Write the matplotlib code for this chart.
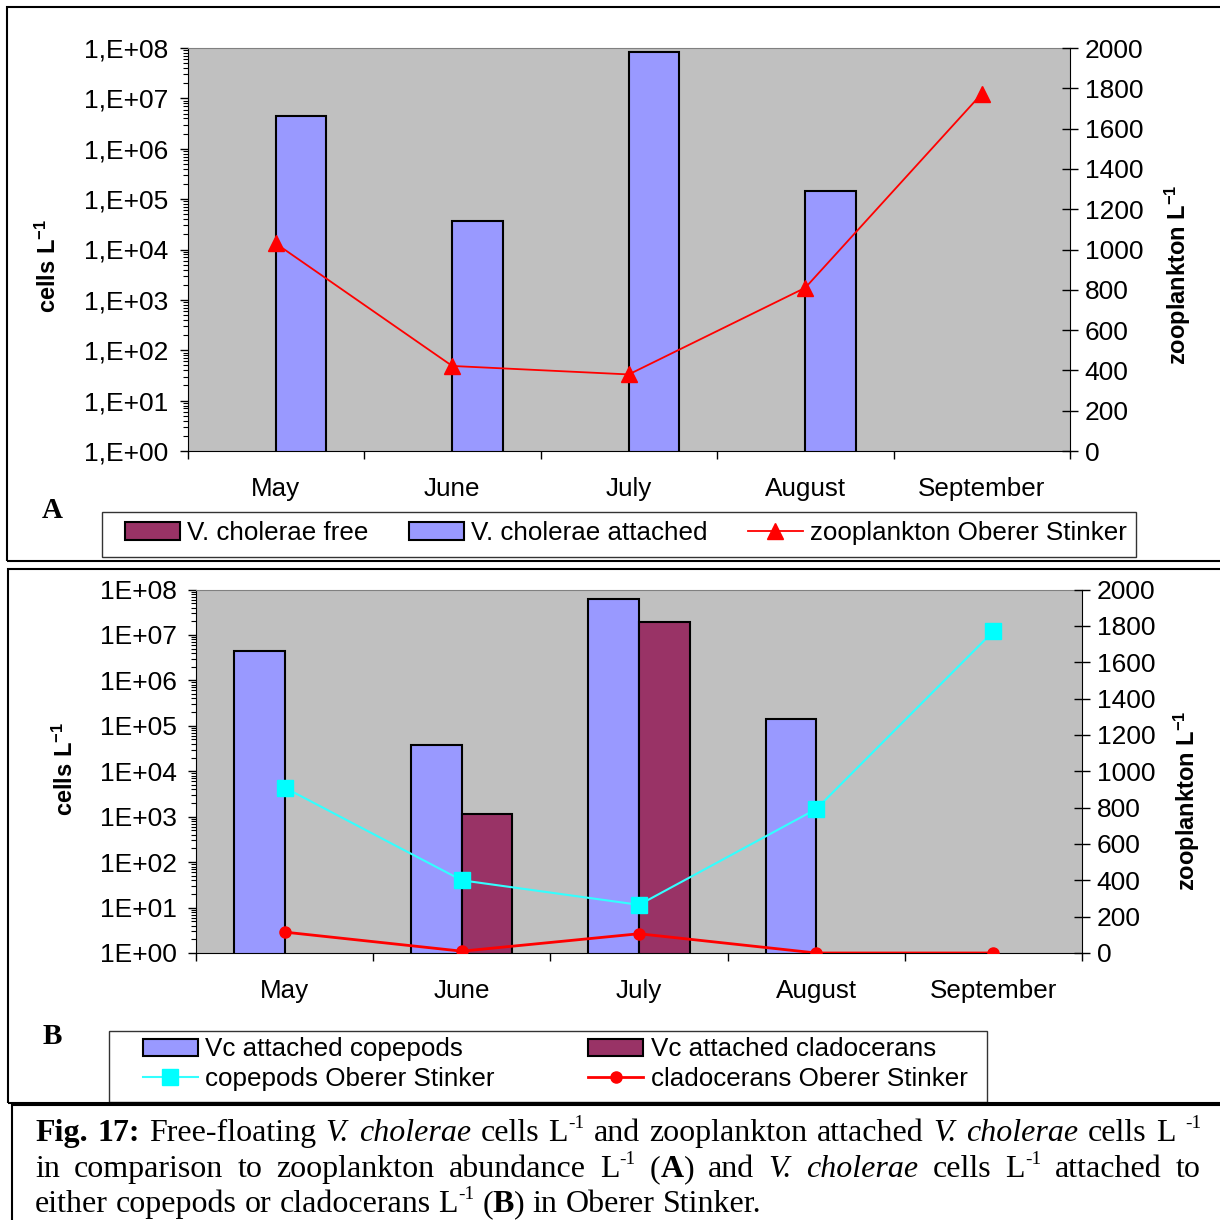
import numpy as np
import matplotlib
matplotlib.use('Agg')
import matplotlib.pyplot as plt
from matplotlib.patches import Rectangle
from matplotlib.ticker import FixedLocator, FuncFormatter, LogLocator, NullFormatter

plt.rcParams['font.family'] = 'Liberation Sans'
plt.rcParams['mathtext.default'] = 'regular'

months = ['May', 'June', 'July', 'August', 'September']

# panel A: cells L-1 (log axis) and zooplankton L-1 (right axis)
vc_free = [0, 0, 0, 0, 0]
vc_attached = [4.4e6, 3.6e4, 8.3e7, 1.48e5, 0]
zoo_total = [1030, 422, 380, 810, 1773]

# panel B
vc_copepods = [4.5e6, 3.7e4, 6.2e7, 1.44e5, 0]
vc_cladocerans = [0, 1.16e3, 1.94e7, 0, 0]
zoo_copepods = [910, 400, 265, 792, 1770]
zoo_cladocerans = [115, 10, 106, 0, 0]

BLUE = '#9999FF'
MAROON = '#993366'
GREY = '#C0C0C0'
FS = 19      # tick labels
LFS = 18.7   # legend text

W, H = 1220, 1220
fig = plt.figure(figsize=(12.2, 12.2), dpi=100)


def fx(px):
    return px / W


def fy(py):
    return 1 - py / H


def box(x0, y0, x1, y1):
    return [fx(x0), fy(y1), fx(x1) - fx(x0), fy(y0) - fy(y1)]


def frame(x0, y0, x1, y1, lw=1.5, ec='black'):
    fig.add_artist(Rectangle((fx(x0), fy(y1)), fx(x1) - fx(x0), fy(y0) - fy(y1),
                             transform=fig.transFigure, fill=False, ec=ec, lw=lw))


def style_axes(ax, ax2, fmt):
    ax.set_facecolor(GREY)
    ax.set_yscale('log')
    ax.set_ylim(1, 1e8)
    ax.set_xlim(-0.5, 4.5)
    ax.yaxis.set_major_locator(FixedLocator([10.0 ** k for k in range(9)]))
    ax.yaxis.set_major_formatter(FuncFormatter(lambda v, p: fmt % round(np.log10(v))))
    ax.yaxis.set_minor_locator(LogLocator(base=10, subs=np.arange(2, 10), numticks=20))
    ax.yaxis.set_minor_formatter(NullFormatter())
    ax.tick_params(axis='y', which='major', direction='out', length=6, width=1, labelsize=FS, pad=8)
    ax.tick_params(axis='y', which='minor', direction='out', length=3.5, width=0.8)
    ax.set_xticks(np.arange(-0.5, 5, 1))
    ax.set_xticklabels([])
    ax.set_xticks(np.arange(5), minor=True)
    ax.set_xticklabels(months, minor=True)
    ax.tick_params(axis='x', which='major', direction='out', length=6, width=1)
    ax.tick_params(axis='x', which='minor', length=0, labelsize=FS - 0.3, pad=18.5)
    ax2.set_ylim(0, 2000)
    ax2.set_yticks(np.arange(0, 2001, 200))
    ax2.tick_params(axis='y', direction='inout', length=11, width=1, labelsize=FS, pad=5)
    ax.spines['top'].set_color('#808080')
    ax.spines['right'].set_visible(False)
    for s in ('top', 'left', 'bottom'):
        ax2.spines[s].set_visible(False)
    ax2.spines['right'].set_color('black')


x = np.arange(len(months))
w = 0.286

# ---------------- panel A
axA = fig.add_axes(box(187.5, 48, 1070, 451))
axA2 = axA.twinx()
style_axes(axA, axA2, '1,E+%02d')
bA1 = axA.bar(x - w, vc_free, w, align='edge', color=MAROON, edgecolor='black', lw=1.5)
bA2 = axA.bar(x, vc_attached, w, align='edge', color=BLUE, edgecolor='black', lw=1.5)
lA, = axA2.plot(x, zoo_total, color='red', lw=1.3, marker='^', ms=11, mec='red')
axA.text(-0.158, 0.46, 'cells L$^{-1}$', rotation=90, ha='center', va='center',
         transform=axA.transAxes, fontsize=17, fontweight='bold')
axA.text(1.122, 0.437, 'zooplankton L$^{-1}$', rotation=90, ha='center', va='center',
         transform=axA.transAxes, fontsize=17, fontweight='bold')

fig.legend([bA1, bA2, lA], ['V. cholerae free', 'V. cholerae attached', 'zooplankton Oberer Stinker'],
           loc='center left', bbox_to_anchor=(fx(125), fy(533)), bbox_transform=fig.transFigure,
           ncol=3, frameon=False, fontsize=LFS, handlelength=2.1, handleheight=0.65,
           handletextpad=0.3, columnspacing=1.55, borderpad=0, borderaxespad=0)
frame(102, 512, 1136, 557, lw=1.0, ec='#333333')
fig.text(fx(52), fy(510), 'A', ha='center', va='center', family='Liberation Serif',
         fontweight='bold', fontsize=21)
frame(7, 7, 1240, 561)

# ---------------- panel B
axB = fig.add_axes(box(196, 589.5, 1082, 953))
axB2 = axB.twinx()
style_axes(axB, axB2, '1E+%02d')
bB1 = axB.bar(x - w, vc_copepods, w, align='edge', color=BLUE, edgecolor='black', lw=1.5)
bB2 = axB.bar(x, vc_cladocerans, w, align='edge', color=MAROON, edgecolor='black', lw=1.5)
lB1, = axB2.plot(x, zoo_copepods, color='#33FFFF', lw=1.5, marker='s', ms=12,
                 mfc='#00FFFF', mec='#00FFFF')
lB2, = axB2.plot(x, zoo_cladocerans, color='red', lw=2, marker='o', ms=8, mec='red')
axB.text(-0.148, 0.506, 'cells L$^{-1}$', rotation=90, ha='center', va='center',
         transform=axB.transAxes, fontsize=17, fontweight='bold')
axB.text(1.1185, 0.418, 'zooplankton L$^{-1}$', rotation=90, ha='center', va='center',
         transform=axB.transAxes, fontsize=17, fontweight='bold')

fig.legend([bB1, lB1, bB2, lB2],
           ['Vc attached copepods', 'copepods Oberer Stinker',
            'Vc attached cladocerans', 'cladocerans Oberer Stinker'],
           loc='center left', bbox_to_anchor=(fx(143), fy(1064)), bbox_transform=fig.transFigure,
           ncol=2, frameon=False, fontsize=LFS, handlelength=2.1, handleheight=0.65,
           handletextpad=0.3, columnspacing=3.6, labelspacing=0.2, borderpad=0, borderaxespad=0)
frame(109, 1031, 987, 1102, lw=1.0, ec='#333333')
fig.text(fx(52), fy(1037), 'B', ha='center', va='center', family='Liberation Serif',
         fontweight='bold', fontsize=21)
frame(8, 569, 1240, 1103)

# ---------------- caption
frame(12.5, 1105, 1240, 1240)
CAP_PX = 32
CAP_PT = CAP_PX * 0.72
cap_lines = [
    'b:Fig. b:17: Free-floating i:V. i:cholerae cells L|s:-1 and zooplankton attached i:V. i:cholerae cells L s:-1',
    'in comparison to zooplankton abundance L|s:-1 (|b:A|) and i:V. i:cholerae cells L|s:-1 attached to',
    'either copepods or cladocerans L|s:-1 (|b:B|) in Oberer Stinker.',
]
cap_base = [1141, 1177, 1212]
cap_justify = [True, True, False]
cap_left, cap_right = 35, 1201

renderer = fig.canvas.get_renderer()
for line, base, just in zip(cap_lines, cap_base, cap_justify):
    tokens = []
    for tok in line.split(' '):
        segs = []
        for part in tok.split('|'):
            if part[1:2] == ':' and part[0] in 'bis':
                kind, txt = part[0], part[2:]
            else:
                kind, txt = 'r', part
            props = dict(family='Liberation Serif', size=CAP_PT)
            rise = 0
            if kind == 'b':
                props['weight'] = 'bold'
            elif kind == 'i':
                props['style'] = 'italic'
            elif kind == 's':
                props['size'] = CAP_PT * 0.6
                rise = 0.4 * CAP_PX
            t = fig.text(0, fy(base - rise), txt, ha='left', va='baseline', **props)
            segs.append(t)
        tokens.append(segs)
    widths = [[t.get_window_extent(renderer).width for t in segs] for segs in tokens]
    total = sum(sum(ws) for ws in widths)
    gap = (cap_right - cap_left - total) / (len(tokens) - 1) if just else 0.25 * CAP_PX
    xp = cap_left
    for segs, ws in zip(tokens, widths):
        for t, wd in zip(segs, ws):
            t.set_x(fx(xp))
            xp += wd
        xp += gap

fig.savefig('out.png', dpi=100)
